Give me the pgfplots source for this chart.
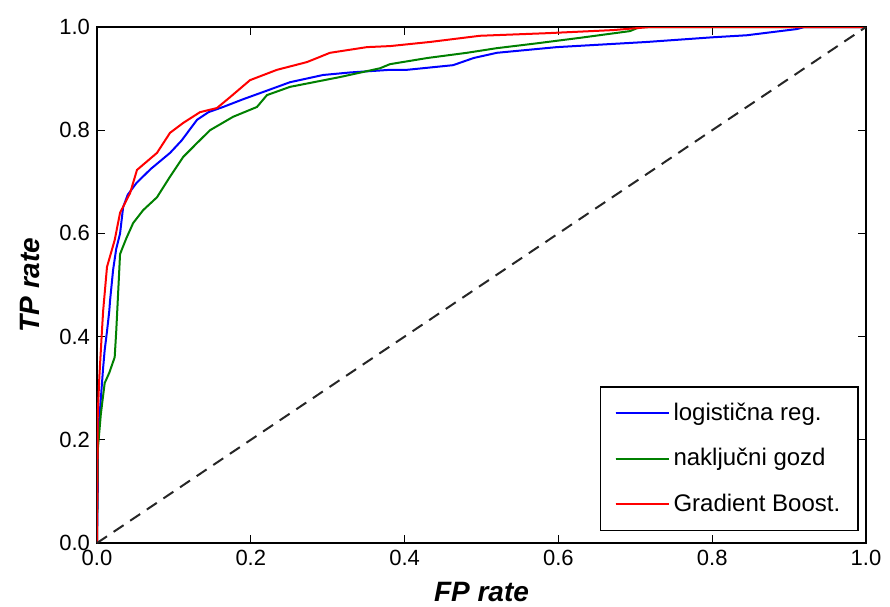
\documentclass[border=0pt]{standalone}
\usepackage{fontspec}
\setmainfont{Liberation Sans}
\usepackage{pgfplots}
\pgfplotsset{compat=1.18}
\definecolor{rocBlue}{RGB}{0,0,255}
\definecolor{rocGreen}{RGB}{0,128,0}
\definecolor{rocRed}{RGB}{255,0,0}

\begin{document}
\begin{tikzpicture}
\useasboundingbox (-48.5pt,-31.5pt) rectangle (396.5pt,271.5pt);
\begin{axis}[
  at={(0,0)}, anchor=south west,
  scale only axis, width=384.5pt, height=258pt,
  xmin=0, xmax=1, ymin=0, ymax=1,
  xtick={0,0.2,...,1.0}, ytick={0,0.2,...,1.0},
  tick align=inside, major tick length=4pt,
  axis line style={line width=0.8pt},
  every tick/.style={black, line width=0.6pt},
  /pgf/number format/assume math mode=true,
  /pgf/number format/.cd, fixed, fixed zerofill, precision=1, /pgfplots/.cd,
  ticklabel style={font=\fontsize{11}{13}\selectfont},
  xlabel={FP rate}, ylabel={TP rate},
  label style={font=\fontsize{14}{16}\selectfont\bfseries\itshape},
  xlabel style={at={(axis description cs:0.5,0)}, anchor=center, yshift=-24.5pt},
  ylabel style={at={(axis description cs:0,0.5)}, anchor=center, yshift=33.5pt},
  legend cell align=left,
  legend style={at={(axis cs:0.991,0.023)}, anchor=south east,
    draw=black, line width=0.8pt, font=\fontsize{12}{14}\selectfont,
    inner xsep=7pt, inner ysep=6pt, row sep=8.5pt,
    nodes={inner sep=2pt}},
  legend image code/.code={%
    \draw[#1, line width=1pt] (0pt,0pt) -- (21pt,0pt);
    \path (0pt,0pt) -- (26.5pt,0pt);},
]
\addplot[rocBlue, line width=1pt] coordinates {
(0,0) (0.001,0.1) (0.001,0.21) (0.004,0.26) (0.006,0.30) (0.008,0.34)
(0.010,0.374) (0.013,0.41) (0.016,0.45) (0.017,0.47) (0.021,0.53)
(0.025,0.57) (0.030,0.60) (0.034,0.651) (0.040,0.675) (0.0515,0.698)
(0.07,0.725) (0.095,0.756) (0.11,0.78) (0.13,0.82) (0.145,0.835)
(0.164,0.845) (0.19,0.86) (0.216,0.874) (0.251,0.893) (0.294,0.907)
(0.33,0.912) (0.381,0.917) (0.403,0.917) (0.463,0.926) (0.49,0.94)
(0.52,0.95) (0.598,0.961) (0.715,0.971) (0.80,0.98) (0.845,0.984)
(0.91,0.996) (0.92,1.0) (1,1)};
\addlegendentry{logistična reg.}
\addplot[rocGreen, line width=1pt] coordinates {
(0,0) (0.001,0.18) (0.005,0.25) (0.010,0.31) (0.016,0.33) (0.023,0.36)
(0.025,0.41) (0.027,0.47) (0.030,0.56) (0.038,0.59) (0.047,0.62)
(0.06,0.645) (0.078,0.67) (0.095,0.71) (0.112,0.748) (0.13,0.775)
(0.147,0.80) (0.177,0.826) (0.208,0.845) (0.221,0.868) (0.251,0.884)
(0.316,0.903) (0.368,0.92) (0.381,0.928) (0.43,0.94) (0.481,0.95)
(0.52,0.959) (0.57,0.968) (0.628,0.979) (0.693,0.992) (0.706,1.0) (1,1)};
\addlegendentry{naključni gozd}
\addplot[rocRed, line width=1pt] coordinates {
(0,0) (0.001,0.25) (0.003,0.32) (0.006,0.40) (0.008,0.45) (0.013,0.535)
(0.023,0.587) (0.030,0.64) (0.043,0.678) (0.052,0.723) (0.078,0.756)
(0.095,0.795) (0.112,0.814) (0.134,0.835) (0.156,0.843) (0.173,0.864)
(0.199,0.897) (0.234,0.917) (0.273,0.932) (0.303,0.95) (0.351,0.961)
(0.381,0.963) (0.433,0.971) (0.498,0.983) (0.585,0.988) (0.671,0.994)
(0.72,1.0) (1,1)};
\addlegendentry{Gradient Boost.}
\addplot[black!85, line width=1pt, dash pattern=on 6pt off 4pt, forget plot]
  coordinates {(0,0) (1,1)};
\end{axis}
\end{tikzpicture}
\end{document}
